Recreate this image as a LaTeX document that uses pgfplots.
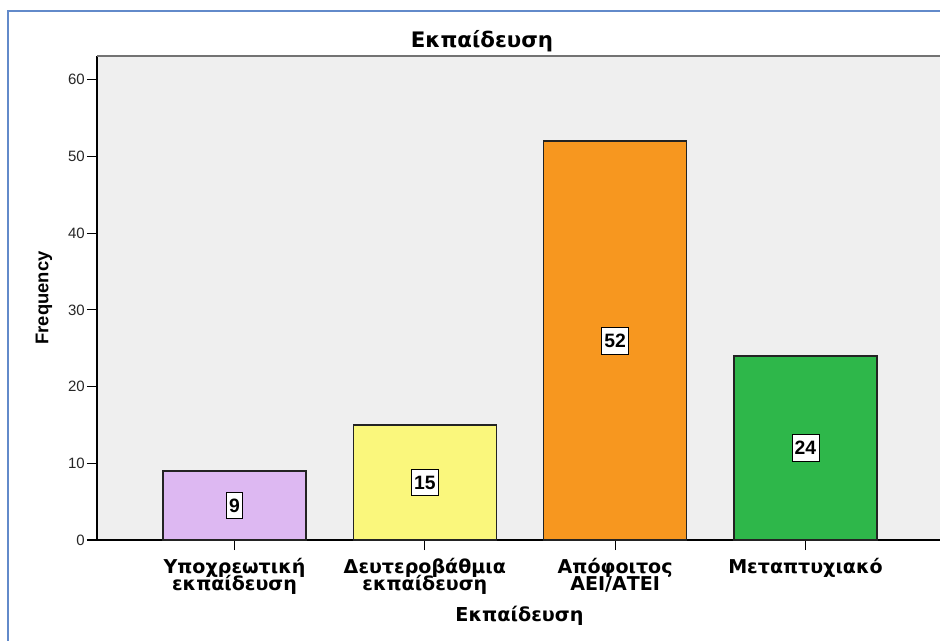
\documentclass[border=0pt]{standalone}
\usepackage{pgfplots}
\pgfplotsset{compat=1.18}
\usepackage{fontspec}
\setmainfont{Liberation Sans}
\newfontfamily\dvsans{DejaVu Sans}

\definecolor{frameblue}{RGB}{98,138,202}
\definecolor{plotbg}{RGB}{239,239,239}
\definecolor{barlilac}{RGB}{221,184,242}
\definecolor{baryellow}{RGB}{250,247,124}
\definecolor{barorange}{RGB}{247,151,31}
\definecolor{bargreen}{RGB}{46,183,74}
\definecolor{baredge}{RGB}{35,35,35}

\begin{document}
\begin{tikzpicture}[x=0.75pt,y=-0.75pt]
\useasboundingbox (0,0) rectangle (940,640);
\clip (0,0) rectangle (940,640);
\fill[white] (0,0) rectangle (940,640);
\draw[frameblue, line width=1.6pt] (8,650) -- (8,11) -- (950,11);

\begin{axis}[
  at={(72.75pt,-405pt)}, anchor=south west,
  scale only axis, width=634.5pt, height=363pt,
  xmin=-0.7225, xmax=3.7225, ymin=0, ymax=63.1,
  axis background/.style={fill=plotbg},
  axis lines=left, axis line style={-, black, line width=1.3pt},
  ybar, bar width=0.75, bar shift=0pt,
  xtick={0,1,2,3},
  xticklabels={{Υποχρεωτική\\εκπαίδευση},{Δευτεροβάθμια\\εκπαίδευση},{Απόφοιτος\\ΑΕΙ/ΑΤΕΙ},{Μεταπτυχιακό}},
  ytick={0,10,...,60},
  tick align=outside, major tick length=7.5pt,
  tick style={black, line width=0.9pt},
  /pgf/number format/assume math mode=true,
  yticklabel style={font=\fontsize{11.25}{12}\selectfont, text=black!85, inner sep=1.5pt},
  xticklabel style={font={\dvsans\bfseries\fontsize{14.3}{12.75}\selectfont\lineskiplimit=-20pt},
    align=center, inner sep=3pt, yshift=-3pt},
  clip=false,
  nodes near coords,
  visualization depends on=rawy \as \rawy,
  every node near coord/.append style={anchor=center, fill=white, draw=black, line width=0.6pt,
    inner xsep=2pt, inner ysep=0pt, minimum height=20pt,
    font=\bfseries\fontsize{14.5}{14.5}\selectfont,
    shift={(axis direction cs:0,-\rawy/2)}},
]
% top edge of the plot frame
\draw[black!55, line width=1.4pt] (rel axis cs:0,1) -- (rel axis cs:1,1);
\addplot[fill=barlilac, draw=baredge, line width=1pt] coordinates {(0,9)};
\addplot[fill=baryellow, draw=baredge, line width=1pt] coordinates {(1,15)};
\addplot[fill=barorange, draw=baredge, line width=1pt] coordinates {(2,52)};
\addplot[fill=bargreen, draw=baredge, line width=1pt] coordinates {(3,24)};
\end{axis}

\node[font=\dvsans\bfseries\fontsize{16}{16}\selectfont] at (482,41) {Εκπαίδευση};
\node[font=\dvsans\bfseries\fontsize{14.4}{14.4}\selectfont] at (519.5,616) {Εκπαίδευση};
\node[font=\bfseries\fontsize{13.8}{13.8}\selectfont, rotate=90] at (44,298) {Frequency};
\end{tikzpicture}
\end{document}
